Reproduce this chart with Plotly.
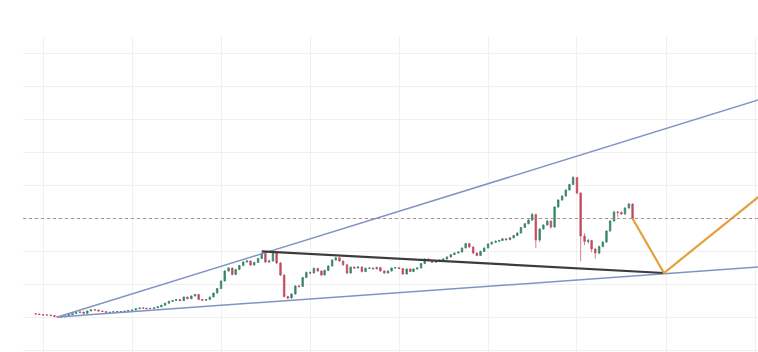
import datetime as dt
import plotly.graph_objects as go

# ---- data (semi-monthly candles) ----
start_year, start_month = 2013, 12
closes = [10.91, 10.76, 10.61, 10.61, 10.45, 10.15, 10.00, 10.00, 10.30, 10.76,
          11.06, 11.36, 11.52, 11.12, 11.82, 12.18, 12.12, 11.82, 11.67, 11.36,
          11.42, 11.58, 11.67, 11.52, 11.76, 11.97, 12.12, 12.52, 12.73, 12.67,
          12.52, 12.61, 12.79, 13.09, 13.55, 14.18, 14.76, 15.00, 15.30, 14.94,
          16.06, 15.52, 16.36, 16.82, 15.30, 15.09, 15.30, 16.06, 17.27, 18.64,
          20.91, 23.94, 24.85, 22.88, 24.39, 25.61, 26.67, 26.97, 25.76, 26.52,
          27.73, 29.24, 26.67, 26.97, 29.39, 26.36, 22.73, 16.21, 15.76, 16.97,
          19.39, 19.24, 21.97, 23.48, 23.33, 24.70, 23.94, 22.73, 24.09, 25.45,
          27.27, 27.94, 26.97, 25.82, 23.33, 25.09, 24.85, 25.15, 23.79, 24.76,
          24.85, 24.60, 25.00, 23.94, 23.33, 23.94, 24.85, 24.95, 24.70, 23.03,
          24.55, 23.79, 24.55, 24.85, 26.21, 27.58, 27.12, 26.60, 26.90, 27.27,
          27.58, 28.18, 28.94, 29.39, 29.70, 30.91, 32.27, 31.21, 29.39, 28.64,
          29.85, 30.91, 32.12, 32.64, 32.94, 33.18, 33.70, 33.42, 34.00, 34.70,
          35.45, 37.12, 38.27, 39.39, 41.06, 33.33, 36.67, 37.88, 39.09, 37.27,
          43.33, 45.45, 46.67, 48.48, 50.15, 52.27, 47.58, 34.55, 32.88, 33.18,
          30.61, 29.39, 31.36, 32.73, 36.06, 39.09, 41.82, 41.67, 41.21, 43.03,
          44.24, 39.85]
first_open = 10.95
highs = [11.1, 11.0, 10.85, 10.75, 10.7, 10.55, 10.25, 10.15, 10.4, 10.85,
         11.2, 11.5, 11.7, 11.6, 11.95, 12.35, 12.3, 12.2, 11.9, 11.75,
         11.55, 11.7, 11.8, 11.75, 11.85, 12.1, 12.25, 12.65, 12.85, 12.85,
         12.75, 12.75, 12.9, 13.2, 13.7, 14.3, 14.9, 15.2, 15.45, 15.4,
         16.2, 16.15, 16.5, 17.0, 16.9, 15.4, 15.45, 16.2, 17.4, 18.8,
         21.1, 24.2, 25.1, 25.0, 24.6, 25.8, 26.9, 27.3, 27.1, 26.8,
         28.0, 29.6, 29.5, 27.4, 29.8, 29.6, 26.6, 22.9, 16.5, 17.2,
         19.6, 19.8, 22.2, 23.8, 23.8, 25.0, 24.9, 24.1, 24.4, 25.7,
         27.5, 28.2, 28.1, 27.1, 26.0, 25.3, 25.3, 25.4, 25.3, 25.0,
         25.1, 25.0, 25.2, 25.1, 24.1, 24.1, 25.0, 25.15, 25.1, 24.8,
         24.7, 24.7, 24.8, 25.1, 26.4, 27.8, 27.8, 27.3, 27.1, 27.5,
         27.8, 28.4, 29.1, 29.6, 29.9, 31.1, 32.5, 32.4, 31.4, 29.6,
         30.1, 31.1, 32.3, 32.9, 33.2, 33.4, 33.9, 33.9, 34.2, 34.9,
         35.7, 37.3, 38.5, 39.6, 41.5, 41.3, 36.9, 38.1, 39.3, 39.2,
         43.6, 45.7, 46.9, 48.7, 50.4, 52.7, 52.4, 47.8, 35.4, 33.8,
         33.4, 31.0, 31.6, 33.0, 36.3, 39.3, 42.2, 42.1, 42.1, 43.3,
         44.6, 44.4]
lows = [10.8, 10.65, 10.5, 10.5, 10.35, 10.05, 9.9, 9.85, 9.95, 10.2,
        10.7, 11.0, 11.3, 11.0, 11.05, 11.75, 12.0, 11.7, 11.55, 11.25,
        11.25, 11.35, 11.5, 11.4, 11.45, 11.7, 11.9, 12.05, 12.45, 12.55,
        12.4, 12.45, 12.55, 12.7, 13.0, 13.45, 14.1, 14.6, 14.9, 14.8,
        14.85, 15.4, 15.45, 16.25, 15.15, 14.95, 15.0, 15.2, 15.95, 17.15,
        18.5, 20.8, 23.7, 22.6, 22.7, 24.2, 25.4, 26.4, 25.5, 25.6,
        26.4, 27.5, 26.3, 26.3, 26.8, 26.0, 22.4, 15.9, 15.3, 15.5,
        16.8, 18.9, 19.1, 21.8, 23.0, 23.2, 23.7, 22.4, 22.6, 23.9,
        25.3, 27.1, 26.7, 25.5, 23.0, 23.2, 24.6, 24.7, 23.5, 23.6,
        24.6, 24.4, 24.45, 23.7, 23.1, 23.2, 23.8, 24.7, 24.5, 22.8,
        22.9, 23.6, 23.6, 24.4, 24.7, 26.0, 26.9, 26.4, 26.4, 26.7,
        27.1, 27.4, 28.0, 28.8, 29.2, 29.5, 30.8, 31.0, 29.1, 28.4,
        28.5, 29.7, 30.8, 31.9, 32.4, 32.7, 33.0, 33.2, 33.3, 33.8,
        34.5, 35.3, 37.0, 38.1, 39.2, 30.9, 32.7, 36.5, 37.7, 36.8,
        37.1, 43.1, 45.2, 46.5, 48.3, 50.0, 47.2, 26.9, 31.8, 32.2,
        29.6, 27.7, 29.0, 31.1, 32.5, 35.9, 38.9, 40.3, 40.9, 41.0,
        42.8, 39.5]

# hand-drawn trendlines (date, price) endpoints
upper_line = (["2014-03-01", "2022-01-15"], [10.0, 75.8])
lower_line = (["2014-03-01", "2022-01-15"], [10.0, 25.15])
neck_line = (["2016-06-16", "2020-12-23"], [29.9, 23.33])
projection = (["2020-08-16", "2020-12-23", "2022-01-15"], [39.85, 23.33, 46.4])

# candle dates: 1st and 16th of each month
dates = []
y, m = start_year, start_month
while len(dates) < len(closes):
    for d in (1, 16):
        if len(dates) < len(closes):
            dates.append(dt.date(y, m, d))
    m += 1
    if m > 12:
        m, y = 1, y + 1
opens = [first_open] + closes[:-1]

fig = go.Figure()
fig.add_trace(go.Candlestick(
    x=dates, open=opens, high=highs, low=lows, close=closes,
    increasing=dict(line=dict(color="#3a8468", width=0.7), fillcolor="#3a8468"),
    decreasing=dict(line=dict(color="#c24a5c", width=0.7), fillcolor="#c24a5c"),
    whiskerwidth=0, showlegend=False, hoverinfo="skip"))

blue = "#8094c4"
fig.add_trace(go.Scatter(x=upper_line[0], y=upper_line[1], mode="lines",
                         line=dict(color=blue, width=1.5), showlegend=False))
fig.add_trace(go.Scatter(x=lower_line[0], y=lower_line[1], mode="lines",
                         line=dict(color=blue, width=1.5), showlegend=False))
fig.add_trace(go.Scatter(x=neck_line[0], y=neck_line[1], mode="lines",
                         line=dict(color="#3c3c3c", width=2.2), showlegend=False))
fig.add_trace(go.Scatter(x=projection[0], y=projection[1], mode="lines",
                         line=dict(color="#e3a03c", width=2.2), showlegend=False))

fig.add_hline(y=closes[-1], line=dict(color="#b39090", width=1, dash="dot"))

fig.update_layout(
    width=758, height=352,
    margin=dict(l=23, r=0, t=36, b=0),
    paper_bgcolor="white", plot_bgcolor="white",
    xaxis=dict(range=["2013-10-10", "2022-01-13"], type="date",
               tick0="2014-01-01", dtick="M12",
               showgrid=True, gridcolor="#f0f0f0", gridwidth=1,
               showticklabels=False, zeroline=False, showline=False,
               rangeslider=dict(visible=False), ticks=""),
    yaxis=dict(range=[-0.6, 95.15], dtick=10, tick0=0,
               showgrid=True, gridcolor="#f0f0f0", gridwidth=1,
               showticklabels=False, zeroline=False, showline=False, ticks=""),
)

fig.write_html("out.html")
